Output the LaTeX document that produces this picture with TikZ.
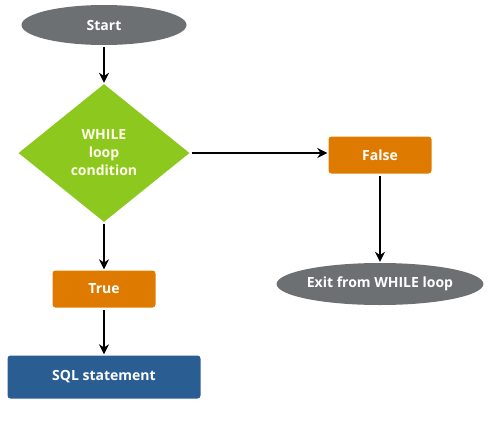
\documentclass[tikz,border=0pt]{standalone}
\usepackage{fontspec}
\setmainfont{Open Sans}
\usetikzlibrary{shapes.geometric,arrows.meta}

\definecolor{termgray}{HTML}{6D7072}
\definecolor{condgreen}{HTML}{8DC81E}
\definecolor{branchorange}{HTML}{DE7A00}
\definecolor{stmtblue}{HTML}{2A5E93}

\begin{document}
\begin{tikzpicture}[x=1pt,y=-1pt,>={Stealth[length=10pt,width=10pt]},
    terminal/.style={ellipse,fill=termgray,text=white,inner sep=0pt,font=\fontsize{14}{17}\selectfont\bfseries},
    decision/.style={diamond,fill=condgreen,text=white!92!yellow,inner sep=0pt,minimum width=171pt,minimum height=138pt,align=center,font=\fontsize{14}{18}\selectfont\bfseries},
    branch/.style={rectangle,rounded corners=3pt,fill=branchorange,text=white,minimum width=103pt,minimum height=37pt,font=\fontsize{14}{17}\selectfont\bfseries},
    stmt/.style={rectangle,rounded corners=3pt,fill=stmtblue,text=white,minimum width=193pt,minimum height=43pt,font=\fontsize{14}{17}\selectfont\bfseries},
    flow/.style={->,line width=1.5pt,shorten <=2pt,shorten >=1pt}]
    \useasboundingbox (0,0) rectangle (500,429);

    % start / end terminals
    \node[terminal,minimum width=165pt,minimum height=40pt] (start) at (104,25) {Start};
    \node[terminal,minimum width=205pt,minimum height=42pt] (exit) at (380,284) {Exit from WHILE loop};

    % condition and branches
    \node[decision] (cond) at (104,153) {WHILE\\loop\\condition};
    \node[branch] (false) at (380,155) {False};
    \node[branch] (true) at (104,289) {True};
    \node[stmt] (sql) at (104,377) {SQL statement};

    % arrows
    \draw[flow] (start) -- (cond);
    \draw[flow] (cond.east) -- (cond.east -| false.west);
    \draw[flow] (false) -- (exit);
    \draw[flow] (cond) -- (true);
    \draw[flow] (true) -- (sql);
\end{tikzpicture}
\end{document}
